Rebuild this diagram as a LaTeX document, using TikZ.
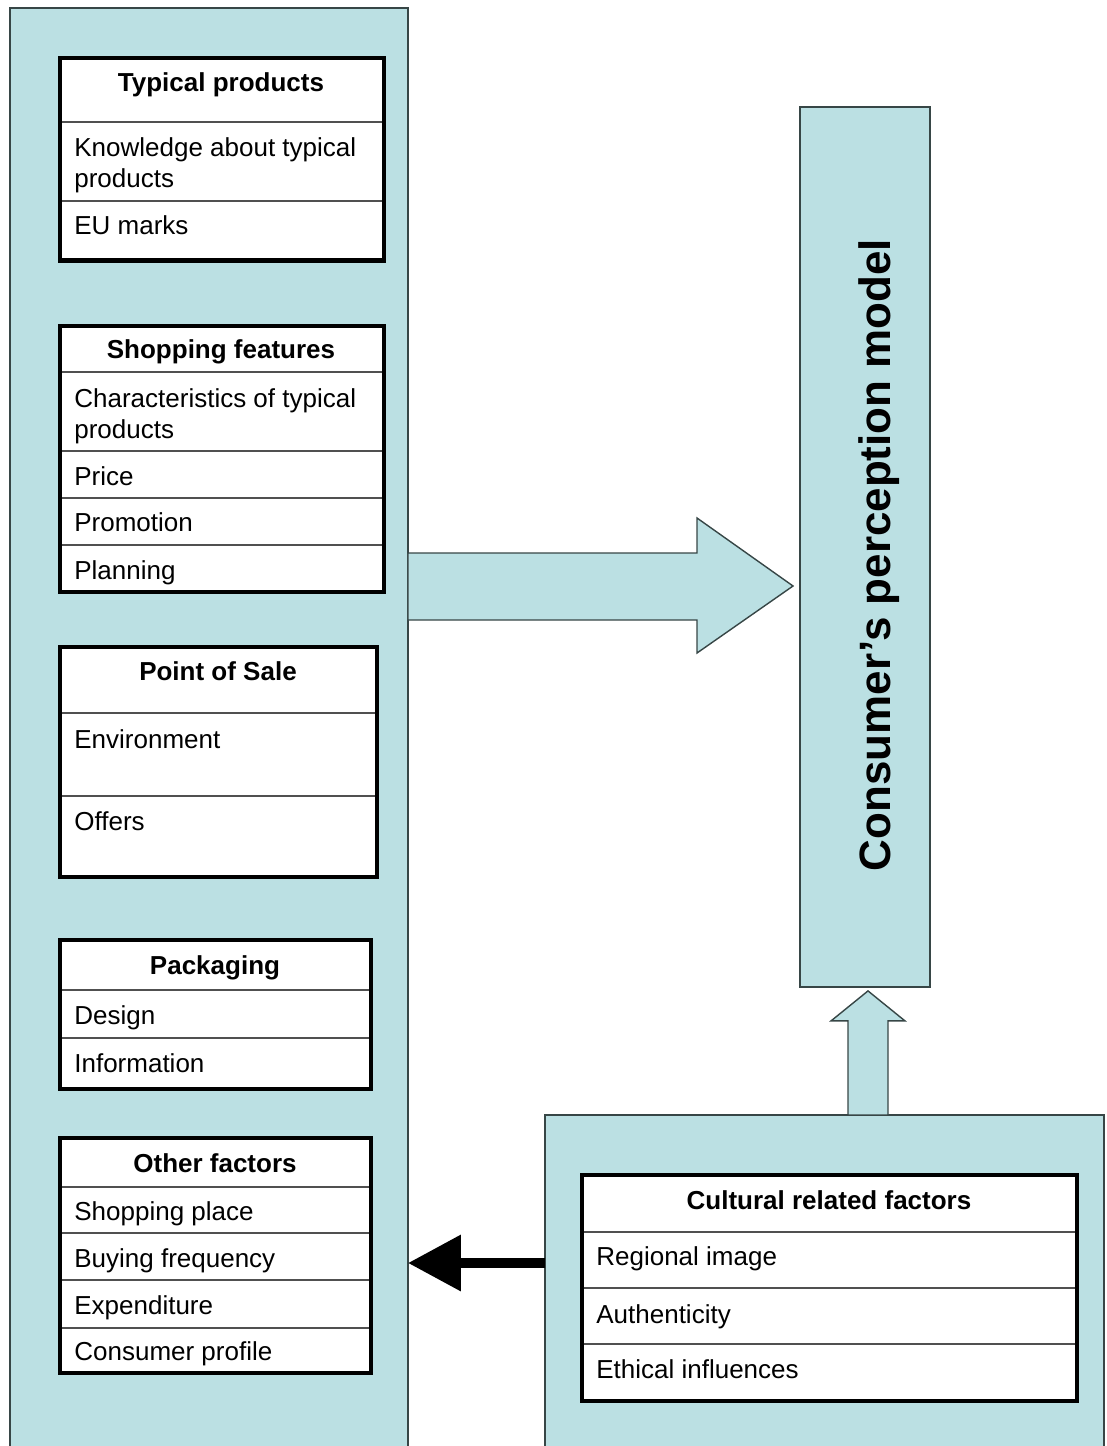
\documentclass[tikz,border=0pt]{standalone}
\usepackage{fontspec}
\setmainfont{Liberation Sans}
\usetikzlibrary{calc,arrows.meta}
\definecolor{paneblue}{RGB}{187,224,227}
\definecolor{edgegrey}{RGB}{55,70,70}
\definecolor{sepgrey}{RGB}{80,80,80}
\newcommand\bodysz{\fontsize{14.8pt}{17pt}\selectfont}
\newcommand\headsz{\fontsize{14.8pt}{17pt}\selectfont\bfseries}
\newcommand\bigsz{\fontsize{25pt}{30pt}\selectfont\bfseries}
\begin{document}
\begin{tikzpicture}[x=0.02cm,y=-0.02cm,
  panel/.style={fill=paneblue,draw=edgegrey,line width=1.1pt,outer sep=0pt,inner sep=0pt},
  box/.style={fill=white,draw=black,line width=2.3pt,outer sep=0pt,inner sep=0pt},
  sep/.style={draw=sepgrey,line width=1pt,shorten <=1.1pt,shorten >=1.1pt},
  head/.style={font=\headsz,anchor=base,inner sep=0pt},
  item/.style={font=\bodysz,anchor=base west,inner sep=0pt},
  blockarrow/.style={fill=paneblue,draw=edgegrey,line width=0.8pt,line join=miter}]
\useasboundingbox (0,0) rectangle (1106,1446);

% panels and the model box
\node[panel,minimum width=7.96cm,minimum height=28.88cm] (lp) at (209,730) {};
\node[panel,minimum width=11.18cm,minimum height=6.74cm] (rp) at (824.5,1283.5) {};
\node[panel,minimum width=2.6cm,minimum height=17.6cm] (pm) at (865,547) {};
\node[font=\bigsz,rotate=90,anchor=base,inner sep=0pt] (pmt) at (890,555) {Consumer’s perception model};

% factor tables
\node[box,minimum width=6.48cm,minimum height=4.05cm] (b1) at (222,159.25) {};
\node[box,minimum width=6.48cm,minimum height=5.32cm] (b2) at (222,459) {};
\node[box,minimum width=6.34cm,minimum height=4.6cm] (b3) at (218.5,762) {};
\node[box,minimum width=6.22cm,minimum height=2.98cm] (b4) at (215.5,1014.5) {};
\node[box,minimum width=6.22cm,minimum height=4.7cm] (b5) at (215.5,1255.5) {};
\node[box,minimum width=9.9cm,minimum height=4.52cm] (b6) at (829.5,1288) {};

% row separators
\foreach \b/\ys in {b1/{122,201},b2/{372,451,498,545},b3/{713,796},b4/{990,1038},
                    b5/{1187,1233,1280,1328},b6/{1232,1288,1344}}{
  \foreach \y in \ys {
    \draw[sep] (\b.west |- 0,\y) -- (\b.east |- 0,\y);
  }
}

% table headings
\node[head] (h1) at (221,92) {Typical products};
\node[head] (h2) at (221,358) {Shopping features};
\node[head] (h3) at (218,680) {Point of Sale};
\node[head] (h4) at (215,974) {Packaging};
\node[head] (h5) at (215,1172) {Other factors};
\node[head] (h6) at (829,1209) {Cultural related factors};

% table rows
\node[item] (t11) at (74,157) {Knowledge about typical};
\node[item] (t12) at (74,188) {products};
\node[item] (t13) at (74,235) {EU marks};
\node[item] (t21) at (74,407) {Characteristics of typical};
\node[item] (t22) at (74,438) {products};
\node[item] (t23) at (74,485) {Price};
\node[item] (t24) at (74,531) {Promotion};
\node[item] (t25) at (74,579) {Planning};
\node[item] (t31) at (74,748) {Environment};
\node[item] (t32) at (74,830) {Offers};
\node[item] (t41) at (74,1024) {Design};
\node[item] (t42) at (74,1072) {Information};
\node[item] (t51) at (74,1220) {Shopping place};
\node[item] (t52) at (74,1267) {Buying frequency};
\node[item] (t53) at (74,1314) {Expenditure};
\node[item] (t54) at (74,1360) {Consumer profile};
\node[item] (t61) at (596,1265) {Regional image};
\node[item] (t62) at (596,1323) {Authenticity};
\node[item] (t63) at (596,1378) {Ethical influences};

% block arrow into the model
\coordinate (rt0) at (pm.west |- 0,586);
\coordinate (rt) at ($(rt0)+(-7,0)$);
\draw[blockarrow] (lp.east |- 0,553) -- ($(rt)+(-96,-33)$) -- ($(rt)+(-96,-68)$) -- (rt)
  -- ($(rt)+(-96,67)$) -- ($(rt)+(-96,34)$) -- (lp.east |- 0,620) -- cycle;

% block arrow from cultural factors up to the model
\coordinate (ut) at ($(pm.south)+(3,4)$);
\coordinate (ub) at (ut |- rp.north);
\draw[blockarrow] (ut) -- ($(ut)+(37,30)$) -- ($(ut)+(20,30)$) -- ($(ub)+(20,0)$)
  -- ($(ub)+(-20,0)$) -- ($(ut)+(-20,30)$) -- ($(ut)+(-37,30)$) -- cycle;

% cultural factors acting on the other factors
\draw[line width=0.2cm,-{Triangle[length=1.06cm,width=1.08cm]}] (rp.west |- 0,1263) -- (lp.east |- 0,1263);
\end{tikzpicture}
\end{document}
